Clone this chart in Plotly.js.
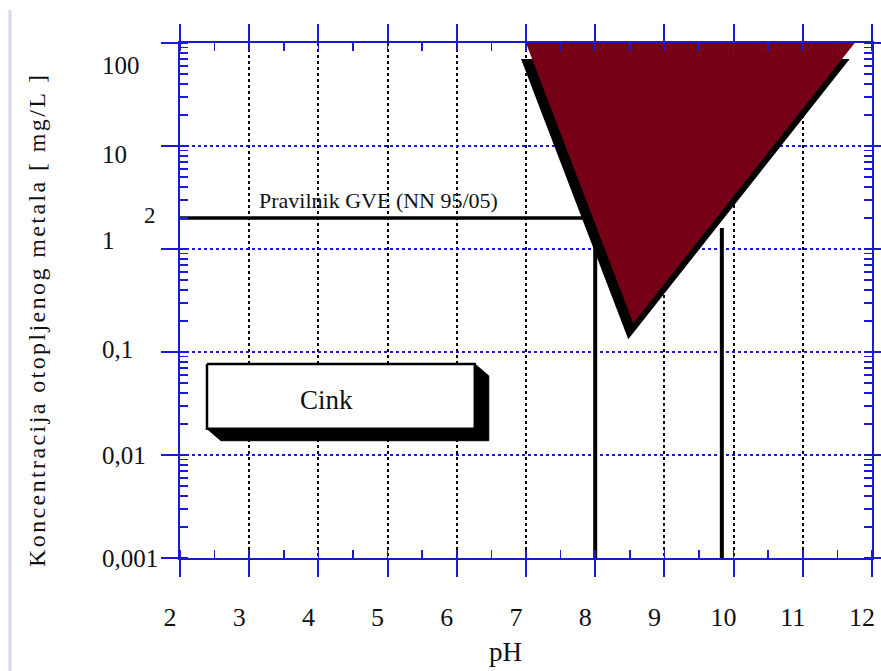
<!DOCTYPE html>
<html><head><meta charset="utf-8">
<script src="https://cdn.plot.ly/plotly-3.0.1.min.js"></script>
<style>
html,body{margin:0;padding:0;background:#fff;}
#chart{width:881px;height:671px;}
</style>
</head><body><div id="chart"></div>
<script>
// ---------------- data ----------------
const phTicks = [2, 3, 4, 5, 6, 7, 8, 9, 10, 11, 12];
const concTickVals = [100, 10, 1, 0.1, 0.01, 0.001];
const concTickText = ['100', '10', '1', '0,1', '0,01', '0,001'];
const limitValue = 2;                      // mg/L
const limitTickText = '2';
const limitLabel = 'Pravilnik GVE (NN 95/05)';
const limitLineX = [2, 8.0];               // pH span of the limit line
const boundaryPH = [8.0, 9.83];            // vertical pH boundaries
const boundaryTop = [2, 1.6];              // mg/L at top of each boundary
const boundaryBottom = 0.001;
const zoneX = [7.0, 11.75, 8.55];          // precipitation zone (pH)
const zoneY = [100, 100, 0.19];            // precipitation zone (mg/L)
const boxX = [2.39, 6.26];                 // "Cink" label box (pH)
const boxY = [0.018, 0.0766];              // "Cink" label box (mg/L)
const boxLabel = 'Cink';
const xTitle = 'pH';
const yTitle = 'Koncentracija otopljenog metala [ mg/L ]';

// ---------------- layout / style ----------------
const W = 881, H = 671;
const M = {l: 180, r: 9, t: 43, b: 113};
const plotW = W - M.l - M.r, plotH = H - M.t - M.b;
const xRange = [2, 12], yRange = [-3, 2];
const pxPerX = plotW / (xRange[1] - xRange[0]);
const pxPerDec = plotH / (yRange[1] - yRange[0]);
const BLUE = '#1a1ad6';
const RED = '#760016';
const FONT = "'Liberation Serif', 'Times New Roman', serif";
const sx = (x, px) => x + px / pxPerX;                 // shift in pixels (right +)
const sy = (y, px) => y * Math.pow(10, -px / pxPerDec); // shift in pixels (down +)
const paperX = px => (px - M.l) / plotW;
const paperY = py => (H - M.b - py) / plotH;

// shadow offsets (pixels)
const zoneShadow = {dx: -5, dy: 16};
const boxShadow = {dx: 14, dy: 12};
// label vertical shifts of the y tick labels as printed in the source (px)
const yLabelShift = [-22, -8, 9, 3, 0, 0];

const traces = [];
// limit line
traces.push({x: limitLineX, y: [limitValue, limitValue], mode: 'lines',
  line: {color: '#000', width: 3.5}, hoverinfo: 'skip'});
// boundaries
boundaryPH.forEach((p, i) => traces.push({x: [p, p], y: [boundaryTop[i], boundaryBottom],
  mode: 'lines', line: {color: '#000', width: 4}, hoverinfo: 'skip'}));
// zone shadow
traces.push({x: zoneX.concat([zoneX[0]]).map(v => sx(v, zoneShadow.dx)),
  y: zoneY.concat([zoneY[0]]).map(v => sy(v, zoneShadow.dy)),
  mode: 'lines', fill: 'toself', fillcolor: '#000', line: {width: 0, color: '#000'}, hoverinfo: 'skip'});
// zone
traces.push({x: zoneX.concat([zoneX[0]]), y: zoneY.concat([zoneY[0]]),
  mode: 'lines', fill: 'toself', fillcolor: RED, line: {width: 0, color: RED}, hoverinfo: 'skip'});
// box shadow (extrusion)
const [bx0, bx1] = boxX, [by0, by1] = boxY;
traces.push({
  x: [bx1, sx(bx1, boxShadow.dx), sx(bx1, boxShadow.dx), sx(bx0, boxShadow.dx), bx0, bx1, bx1],
  y: [by1, sy(by1, boxShadow.dy), sy(by0, boxShadow.dy), sy(by0, boxShadow.dy), by0, by0, by1],
  mode: 'lines', fill: 'toself', fillcolor: '#000', line: {width: 1, color: '#000'}, hoverinfo: 'skip'});
// box
traces.push({x: [bx0, bx1, bx1, bx0, bx0], y: [by1, by1, by0, by0, by1],
  mode: 'lines', fill: 'toself', fillcolor: '#fff', line: {width: 2.5, color: '#000'}, hoverinfo: 'skip'});

const annotations = [];
concTickVals.forEach((v, i) => annotations.push({
  xref: 'paper', yref: 'y', x: paperX(100), y: Math.log10(v), xanchor: 'left', yanchor: 'middle',
  yshift: yLabelShift[i], text: concTickText[i], showarrow: false,
  font: {family: FONT, size: 25, color: '#111'}}));
annotations.push({xref: 'paper', yref: 'y', x: paperX(158), y: Math.log10(limitValue),
  xanchor: 'right', yanchor: 'middle', yshift: 2, text: limitTickText, showarrow: false,
  font: {family: FONT, size: 23, color: '#111'}});
annotations.push({xref: 'x', yref: 'y', x: 3.11, y: Math.log10(2.95), xanchor: 'left', yanchor: 'middle',
  text: limitLabel, showarrow: false, font: {family: FONT, size: 22, color: '#111'}});
annotations.push({xref: 'x', yref: 'y', x: 4.12, y: Math.log10(0.034), xanchor: 'center', yanchor: 'middle',
  text: boxLabel, showarrow: false, font: {family: FONT, size: 27, color: '#111'}});
annotations.push({xref: 'paper', yref: 'paper', x: paperX(505), y: paperY(652), xanchor: 'center', yanchor: 'middle',
  text: xTitle, showarrow: false, font: {family: FONT, size: 27, color: '#111'}});
const yTitleIndex = annotations.length;
annotations.push({xref: 'paper', yref: 'paper', x: paperX(37), y: paperY(320), xanchor: 'center', yanchor: 'middle',
  textangle: -90, text: yTitle, showarrow: false, font: {family: FONT, size: 24, color: '#111'}});

const st = document.createElement('style');
st.textContent = `g.annotation[data-index="${yTitleIndex}"] text{letter-spacing:2.4px;}`;
document.head.appendChild(st);

const axisCommon = {
  showline: true, linecolor: BLUE, linewidth: 2, mirror: 'ticks',
  ticks: 'outside', tickcolor: BLUE, tickwidth: 2, ticklen: 17,
  zeroline: false, fixedrange: true
};

const layout = {
  width: W, height: H, margin: M, paper_bgcolor: '#fff', plot_bgcolor: '#fff',
  showlegend: false,
  xaxis: Object.assign({}, axisCommon, {
    range: xRange, tickmode: 'array', tickvals: phTicks, ticktext: phTicks.map(String),
    showgrid: true, gridcolor: '#000', gridwidth: 2, griddash: 'dot',
    tickfont: {family: FONT, size: 26, color: '#111'}, ticklabelshift: -10, ticklabelstandoff: 18,
    minor: {dtick: 0.5, ticks: 'inside', ticklen: 8, tickcolor: BLUE, tickwidth: 1.5, showgrid: false}
  }),
  yaxis: Object.assign({}, axisCommon, {
    type: 'log', range: yRange, dtick: 1, showticklabels: false,
    showgrid: true, gridcolor: BLUE, gridwidth: 2.5, griddash: 'dot',
    minor: {dtick: 'D1', ticks: 'inside', ticklen: 8, tickcolor: BLUE, tickwidth: 1.5, showgrid: false}
  }),
  annotations: annotations,
  shapes: [{type: 'line', xref: 'paper', yref: 'paper', x0: paperX(10), x1: paperX(10),
    y0: paperY(671), y1: paperY(10), line: {color: '#d3d9ea', width: 3}}]
};

Plotly.newPlot('chart', traces, layout, {staticPlot: true, displayModeBar: false});
</script>
</body></html>
